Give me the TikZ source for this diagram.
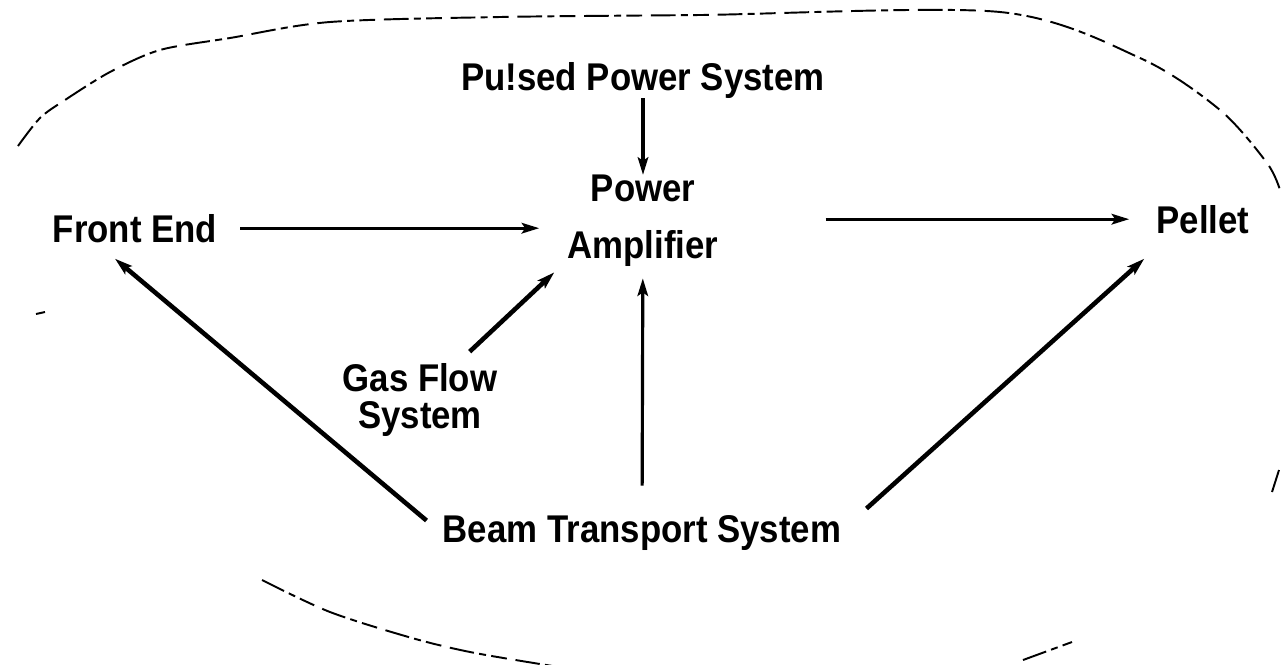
\documentclass[tikz,border=0pt]{standalone}
\usepackage{fontspec}
\setmainfont{Liberation Sans}[FakeStretch=0.9]
\usepackage{tikz}
\usetikzlibrary{arrows.meta}

\begin{document}
\begin{tikzpicture}[x=0.02cm,y=-0.02cm,
lbl/.style={inner sep=0pt,anchor=base,align=center,font=\fontsize{22}{26}\selectfont\bfseries},
arr/.style={-{Stealth[length=10pt,width=6pt,inset=2pt]},line width=1.8pt},
thk/.style={arr,line width=2.6pt},
outline/.style={line width=1.1pt,dash pattern=on 14pt off 3pt on 4pt off 3pt on 9pt off 5pt}]
\useasboundingbox(0,0)rectangle(1287,664);
\node[lbl](pps)at(643,90){Pu!sed Power System};
\node[lbl](pa)at(643,258){Power\\[6pt]Amplifier};
\node[lbl](fe)at(135,242){Front End};
\node[lbl](pel)at(1203,233){Pellet};
\node[lbl,font=\fontsize{22}{20.5}\selectfont\bfseries](gfs)at(420,428){Gas Flow\\System};
\node[lbl](bts)at(642,542){Beam Transport System};
\draw[arr](pps)--(pa);
\draw[arr,shorten <=0.46cm,shorten >=0.56cm](fe.east)--(fe.east-|pa.west);
\draw[arr,shorten <=2.14cm,shorten >=0.54cm](pa.east|-pel.west)--(pel.west);
\draw[thk]([shift={(-28,-12)}]gfs.north east)--([shift={(-13,6)}]pa.south west);
\draw[arr,shorten <=0.58cm,shorten >=0.24cm](bts)--(pa);
\draw[thk]([shift={(-16,-12)}]bts.west)--([shift={(-20,16)}]fe.south);
\draw[thk]([shift={(25,-24)}]bts.east)--([shift={(-12,25)}]pel.south west);
% dashed outline round the whole
\draw[outline]plot[smooth]coordinates{(18,146)(40,118)(65,100)(110,72)(160,50)(230,38)(330,22)(500,17)(700,15)(1000,12)(1140,58)(1220,110)(1267,163)(1280,190)};
\draw[outline](1272,492)--(1279,470);
\draw[outline](1023,660)--(1072,642);
\draw[outline]plot[smooth]coordinates{(262,580)(330,612)(412,638)(470,652)(540,664)(580,670)};
\draw[outline](36,314)--(45,312);
\end{tikzpicture}
\end{document}
